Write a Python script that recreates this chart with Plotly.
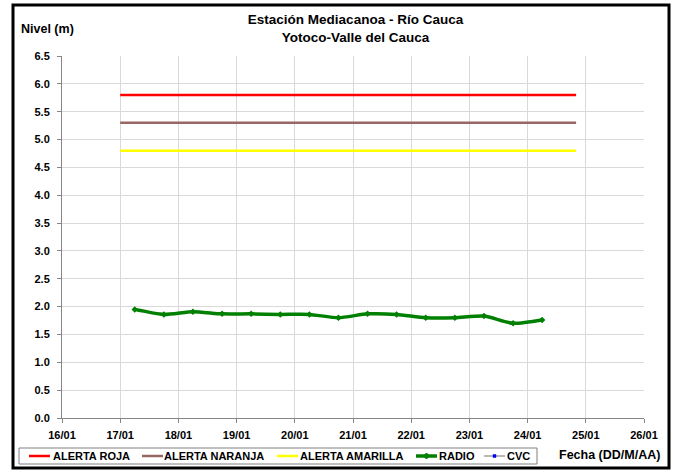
import plotly.graph_objects as go

# ---- data ----
alert_x = ["2013-01-17 00:00", "2013-01-24 20:00"]
alerta_roja = [5.8, 5.8]
alerta_naranja = [5.3, 5.3]
alerta_amarilla = [4.8, 4.8]

radio_x = [
    "2013-01-17 06:00", "2013-01-17 18:00",
    "2013-01-18 06:00", "2013-01-18 18:00",
    "2013-01-19 06:00", "2013-01-19 18:00",
    "2013-01-20 06:00", "2013-01-20 18:00",
    "2013-01-21 06:00", "2013-01-21 18:00",
    "2013-01-22 06:00", "2013-01-22 18:00",
    "2013-01-23 06:00", "2013-01-23 18:00",
    "2013-01-24 06:00",
]
radio_y = [1.95, 1.86, 1.91, 1.87, 1.87, 1.86, 1.86, 1.80,
           1.87, 1.86, 1.80, 1.80, 1.83, 1.70, 1.76]

tick_vals = ["2013-01-%02d" % d for d in range(16, 27)]
tick_text = ["%02d/01" % d for d in range(16, 27)]
y_ticks = [i * 0.5 for i in range(14)]

legend_names = ["ALERTA ROJA", "ALERTA NARANJA", "ALERTA AMARILLA", "RADIO", "CVC"]
legend_colors = ["#FF0000", "#996666", "#FFFF00", "#008000", "#A0A0A0"]

FONT = "Liberation Sans, Arial, sans-serif"

# plot area in pixels
L, R, T, B = 62, 644, 56, 418
W, H = 677, 472


def px(x):
    return (x - L) / (R - L)


def py(y):
    return (B - y) / (B - T)


fig = go.Figure()
fig.add_trace(go.Scatter(x=alert_x, y=alerta_roja, mode="lines", name=legend_names[0],
                         line=dict(color=legend_colors[0], width=2.5)))
fig.add_trace(go.Scatter(x=alert_x, y=alerta_naranja, mode="lines", name=legend_names[1],
                         line=dict(color=legend_colors[1], width=2.5)))
fig.add_trace(go.Scatter(x=alert_x, y=alerta_amarilla, mode="lines", name=legend_names[2],
                         line=dict(color=legend_colors[2], width=2.5)))
fig.add_trace(go.Scatter(x=radio_x, y=radio_y, mode="lines+markers", name=legend_names[3],
                         line=dict(color=legend_colors[3], width=3.5, shape="spline", smoothing=0.6),
                         marker=dict(symbol="diamond", size=5, color="#008000")))
fig.add_trace(go.Scatter(x=[None], y=[None], mode="lines+markers", name=legend_names[4],
                         line=dict(color=legend_colors[4], width=1.5),
                         marker=dict(symbol="square", size=4, color="#0000FF")))

fig.update_layout(
    width=W, height=H,
    margin=dict(l=L, r=W - R, t=T, b=H - B, autoexpand=False),
    paper_bgcolor="white", plot_bgcolor="white",
    font=dict(family=FONT, size=11, color="black"),
    showlegend=False,
    title=dict(text="Estación Mediacanoa - Río Cauca<br>Yotoco-Valle del Cauca",
               x=355.5 / W, xanchor="center", y=1 - 24 / H, yanchor="middle",
               xref="container", yref="container",
               font=dict(family=FONT, size=13.5, color="black", weight="bold")),
    xaxis=dict(type="date", range=["2013-01-16", "2013-01-26"],
               tickvals=tick_vals, ticktext=tick_text,
               showgrid=True, gridcolor="#D9D9D9", gridwidth=1,
               showline=True, linecolor="#868686", linewidth=1,
               ticks="outside", ticklen=4, tickcolor="#868686",
               ticklabelstandoff=3,
               tickfont=dict(family=FONT, size=11, weight="bold"),
               zeroline=False),
    yaxis=dict(range=[0, 6.5], tickvals=y_ticks, tickformat=".1f",
               showgrid=True, gridcolor="#D9D9D9", gridwidth=1,
               showline=True, linecolor="#868686", linewidth=1,
               ticks="outside", ticklen=4, tickcolor="#868686",
               ticklabelstandoff=5,
               tickfont=dict(family=FONT, size=11, weight="bold"),
               zeroline=False),
)

fig.add_annotation(text="Nivel (m)", xref="paper", yref="paper",
                   x=px(19), y=py(29), xanchor="left", yanchor="middle",
                   showarrow=False, font=dict(family=FONT, size=12.5, weight="bold"))
fig.add_annotation(text="Fecha (DD/M/AA)", xref="paper", yref="paper",
                   x=px(557), y=py(455), xanchor="left", yanchor="middle",
                   showarrow=False, font=dict(family=FONT, size=12.5, weight="bold"))

# outer frame
fig.add_shape(type="rect", xref="paper", yref="paper",
              x0=px(13), x1=px(669), y0=py(468), y1=py(5),
              line=dict(color="black", width=3), fillcolor="rgba(0,0,0,0)", layer="above")

# legend box (drawn manually to match the compact original layout)
fig.add_shape(type="rect", xref="paper", yref="paper",
              x0=px(19), x1=px(537), y0=py(464), y1=py(448),
              line=dict(color="#808080", width=1), fillcolor="white", layer="above")
leg_y = 456
leg_line_x = [29, 142, 277, 416, 484]
leg_text_x = [51, 162, 298, 437, 505]
leg_widths = [2.5, 2.5, 2.5, 3.5, 1.5]
for name, col, lx, tx, lw in zip(legend_names, legend_colors, leg_line_x, leg_text_x, leg_widths):
    fig.add_shape(type="line", xref="paper", yref="paper",
                  x0=px(lx), x1=px(lx + 21), y0=py(leg_y), y1=py(leg_y),
                  line=dict(color=col, width=lw), layer="above")
    fig.add_annotation(text=name, xref="paper", yref="paper",
                       x=px(tx), y=py(leg_y), xanchor="left", yanchor="middle",
                       showarrow=False, font=dict(family=FONT, size=11, weight="bold"))
# legend markers (RADIO diamond, CVC blue square)
fig.add_shape(type="path", xref="paper", yref="paper",
              path="M %f,%f L %f,%f L %f,%f L %f,%f Z" % (
                  px(426.5), py(leg_y - 3), px(429.5), py(leg_y),
                  px(426.5), py(leg_y + 3), px(423.5), py(leg_y)),
              line=dict(color="#008000", width=1), fillcolor="#008000", layer="above")
fig.add_shape(type="rect", xref="paper", yref="paper",
              x0=px(493), x1=px(496), y0=py(leg_y + 1.5), y1=py(leg_y - 1.5),
              line=dict(color="#0000FF", width=0.5), fillcolor="#0000FF", layer="above")

fig.write_html("out.html",
               config={"displayModeBar": False},
               post_script="document.body.style.margin='0';document.body.style.overflow='hidden';")
